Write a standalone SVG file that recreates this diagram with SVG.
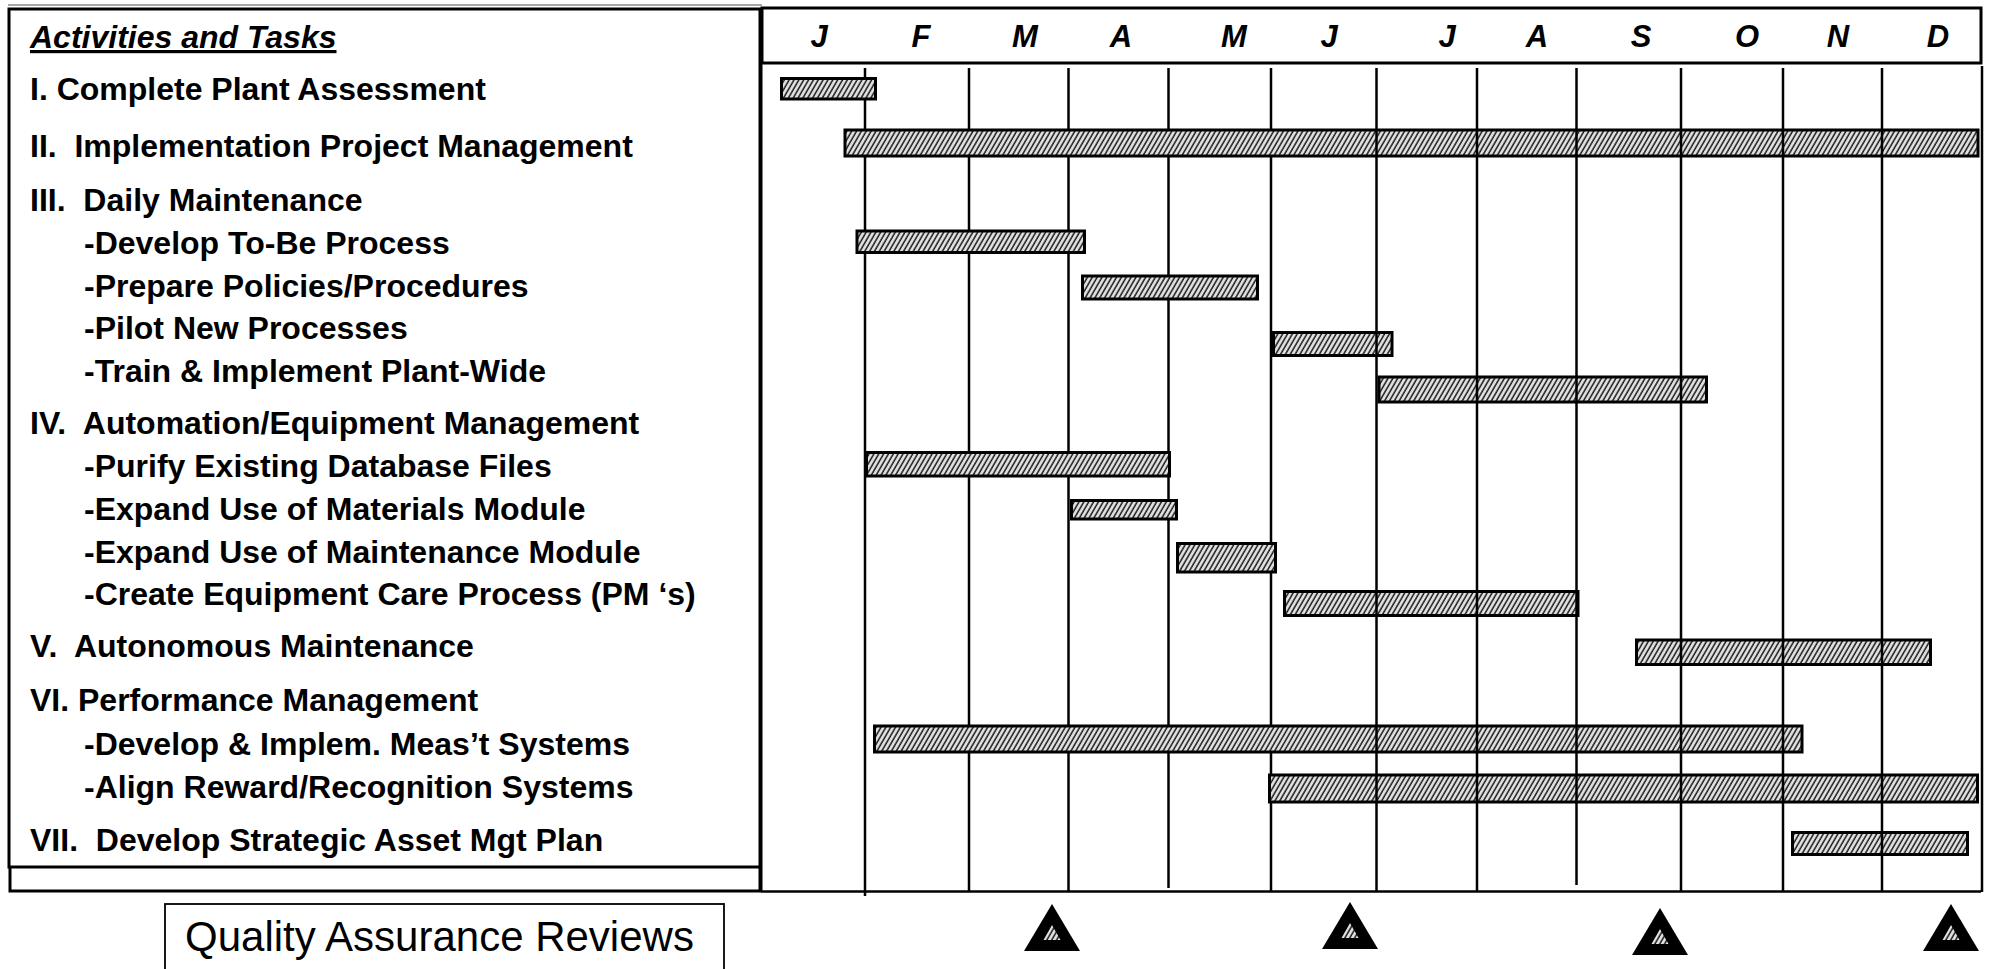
<svg xmlns="http://www.w3.org/2000/svg" width="1992" height="969" viewBox="0 0 1992 969">
  <style>
    .lbl { font-family: "Liberation Sans", Arial, sans-serif; font-weight: bold; font-size: 32px; fill: #000; }
    .head { font-family: "Liberation Sans", Arial, sans-serif; font-weight: bold; font-style: italic; font-size: 32px; fill: #000; text-decoration: underline; }
    .mon { font-family: "Liberation Sans", Arial, sans-serif; font-weight: bold; font-style: italic; font-size: 31px; fill: #000; text-anchor: middle; }
    .qa { font-family: "Liberation Sans", Arial, sans-serif; font-size: 42px; fill: #000; }
    .bar { fill: url(#hatch); stroke: #000; stroke-width: 3; }
    .grid line { stroke: #000; stroke-width: 2.5; }
    .frame { fill: none; stroke: #000; stroke-width: 3; }
  </style>
  <defs>
    <pattern id="hatch" patternUnits="userSpaceOnUse" width="4.2" height="8" patternTransform="rotate(30)">
      <rect width="4.2" height="8" fill="#e2e2e2"/>
      <line x1="1" y1="0" x2="1" y2="8" stroke="#1a1a1a" stroke-width="1.5"/>
    </pattern>
    <g id="milestone">
      <path d="M0,0 L28,47 L-28,47 Z" fill="#000"/>
      <path d="M0,21 L8.5,36 L-8.5,36 Z" fill="url(#hatch)"/>
    </g>
  </defs>

  <rect width="1992" height="969" fill="#fff"/>

  <!-- task list panel -->
  <g id="task-panel">
    <line x1="8" y1="5" x2="762" y2="5" stroke="#888" stroke-width="1.5"/>
    <rect class="frame" x="9" y="9" width="751" height="858"/>
    <polyline class="frame" points="10,867 10,891 760,891 760,867"/>
    <text class="head" x="30" y="48">Activities and Tasks</text>
  </g>

  <!-- month header -->
  <g id="month-header">
    <rect class="frame" x="762" y="8" width="1219" height="55"/>
    <text class="mon" x="819" y="47">J</text>
    <text class="mon" x="921" y="47">F</text>
    <text class="mon" x="1025" y="47">M</text>
    <text class="mon" x="1121" y="47">A</text>
    <text class="mon" x="1234" y="47">M</text>
    <text class="mon" x="1329" y="47">J</text>
    <text class="mon" x="1447" y="47">J</text>
    <text class="mon" x="1537" y="47">A</text>
    <text class="mon" x="1641" y="47">S</text>
    <text class="mon" x="1747" y="47">O</text>
    <text class="mon" x="1838" y="47">N</text>
    <text class="mon" x="1938" y="47">D</text>
  </g>

  <!-- month dividers, first half (behind bars) -->
  <g id="grid-back" class="grid">
    <line x1="761" y1="63" x2="761" y2="892" style="stroke-width:3"/>
    <line x1="865" y1="68" x2="865" y2="896"/>
    <line x1="969" y1="68" x2="969" y2="892"/>
    <line x1="1068.5" y1="68" x2="1068.5" y2="892"/>
    <line x1="1168.5" y1="68" x2="1168.5" y2="888"/>
    <line x1="1271" y1="68" x2="1271" y2="892"/>
    <line x1="761" y1="891.5" x2="1981" y2="891.5"/>
  </g>

  <!-- activities and their bars -->
  <g id="task-1">
    <text class="lbl" x="30" y="100">I. Complete Plant Assessment</text>
    <rect class="bar" x="781.5" y="78.5" width="94" height="20.5"/>
  </g>
  <g id="task-2">
    <text class="lbl" x="30" y="156.5" xml:space="preserve">II.  Implementation Project Management</text>
    <rect class="bar" x="845" y="130" width="1133" height="26"/>
  </g>
  <g id="task-3">
    <text class="lbl" x="30" y="211" xml:space="preserve">III.  Daily Maintenance</text>
  </g>
  <g id="task-3a">
    <text class="lbl" x="84" y="254">-Develop To-Be Process</text>
    <rect class="bar" x="857" y="231" width="227.5" height="21.5"/>
  </g>
  <g id="task-3b">
    <text class="lbl" x="84" y="297">-Prepare Policies/Procedures</text>
    <rect class="bar" x="1082.5" y="276" width="175" height="23"/>
  </g>
  <g id="task-3c">
    <text class="lbl" x="84" y="339">-Pilot New Processes</text>
    <rect class="bar" x="1273.5" y="332.5" width="118.5" height="23"/>
  </g>
  <g id="task-3d">
    <text class="lbl" x="84" y="382">-Train &amp; Implement Plant-Wide</text>
    <rect class="bar" x="1379" y="377" width="327.5" height="25"/>
  </g>
  <g id="task-4">
    <text class="lbl" x="30" y="434" xml:space="preserve">IV.  Automation/Equipment Management</text>
  </g>
  <g id="task-4a">
    <text class="lbl" x="84" y="477">-Purify Existing Database Files</text>
    <rect class="bar" x="866.5" y="452.5" width="303" height="23.5"/>
  </g>
  <g id="task-4b">
    <text class="lbl" x="84" y="520">-Expand Use of Materials Module</text>
    <rect class="bar" x="1071.5" y="500.5" width="105" height="18.5"/>
  </g>
  <g id="task-4c">
    <text class="lbl" x="84" y="563">-Expand Use of Maintenance Module</text>
    <rect class="bar" x="1177.5" y="543.5" width="98" height="28.5"/>
  </g>
  <g id="task-4d">
    <text class="lbl" x="84" y="605">-Create Equipment Care Process (PM ‘s)</text>
    <rect class="bar" x="1284.5" y="591.5" width="293.5" height="24"/>
  </g>
  <g id="task-5">
    <text class="lbl" x="30" y="657" xml:space="preserve">V.  Autonomous Maintenance</text>
    <rect class="bar" x="1636.5" y="640" width="294" height="24.5"/>
  </g>
  <g id="task-6">
    <text class="lbl" x="30" y="711">VI. Performance Management</text>
  </g>
  <g id="task-6a">
    <text class="lbl" x="84" y="755">-Develop &amp; Implem. Meas’t Systems</text>
    <rect class="bar" x="874.5" y="726" width="927.5" height="26"/>
  </g>
  <g id="task-6b">
    <text class="lbl" x="84" y="798">-Align Reward/Recognition Systems</text>
    <rect class="bar" x="1269.5" y="775" width="708" height="27"/>
  </g>
  <g id="task-7">
    <text class="lbl" x="30" y="851" xml:space="preserve">VII.  Develop Strategic Asset Mgt Plan</text>
    <rect class="bar" x="1792.5" y="832.5" width="175" height="22"/>
  </g>

  <!-- month dividers, second half (over bars) -->
  <g id="grid-front" class="grid">
    <line x1="1376.5" y1="68" x2="1376.5" y2="892"/>
    <line x1="1477" y1="68" x2="1477" y2="892"/>
    <line x1="1576.5" y1="68" x2="1576.5" y2="885"/>
    <line x1="1681" y1="68" x2="1681" y2="892"/>
    <line x1="1783" y1="68" x2="1783" y2="892"/>
    <line x1="1882" y1="68" x2="1882" y2="892"/>
    <line x1="1982" y1="66" x2="1982" y2="892"/>
  </g>

  <!-- quality assurance review milestones -->
  <g id="qa-legend">
    <rect x="165" y="904" width="559" height="80" fill="#fff" stroke="#000" stroke-width="1.8"/>
    <text class="qa" x="185" y="951">Quality Assurance Reviews</text>
  </g>
  <g id="milestones">
    <use href="#milestone" x="1052" y="904"/>
    <use href="#milestone" x="1350" y="902"/>
    <use href="#milestone" x="1660" y="908"/>
    <use href="#milestone" x="1951" y="904"/>
  </g>
</svg>
